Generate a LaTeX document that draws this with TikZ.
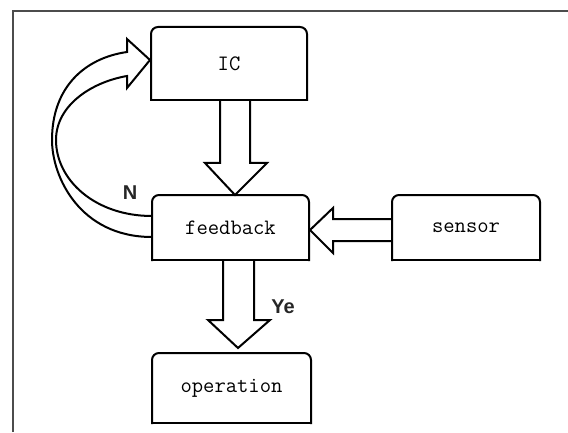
\documentclass[tikz,border=0pt]{standalone}
\usepackage{fontspec}
\newfontfamily\tagfont{Liberation Sans}
\usepackage{tikz}
\usetikzlibrary{calc, positioning}

\begin{document}
\begin{tikzpicture}[x=1pt, y=1pt, line width=2pt,
        block/.style={inner sep=0pt, outer sep=0pt, font={\fontsize{22}{26}\selectfont\ttfamily}},
        fat/.style={draw, fill=white, line join=miter},
        answer/.style={font={\fontsize{20}{22}\selectfont\tagfont\bfseries}, text=black!85}]
        \useasboundingbox (0,0) rectangle (568,432);
        \draw[black!70, line width=1.2pt] (13,0) -- (13,421) -- (568,421);

        \node[block, minimum width=156pt, minimum height=73pt] (ic) at (229,368.5) {IC};
        \node[block, minimum width=157pt, minimum height=65pt, below=95pt of ic, xshift=1.5pt] (fb) {feedback};
        \node[block, minimum width=148pt, minimum height=65pt, right=83pt of fb] (sensor) {sensor};
        \node[block, minimum width=159pt, minimum height=70pt, below=93pt of fb, xshift=1pt] (op) {operation};

        % hollow arrows
        \draw[fat] ($(ic.south)+(-9,0)$) -- ++(0,-63) -- ++(-15,0) -- ($(fb.north)+(4.5,0)$)
                -- ($(ic.south)+(38,-63)$) -- ++(-17,0) -- ++(0,63);
        \draw[fat] ($(fb.south)+(-7.5,0)$) -- ++(0,-60) -- ++(-15,0) -- ($(op.north)+(6.5,5)$)
                -- ($(fb.south)+(39.5,-60)$) -- ++(-16,0) -- ++(0,60);
        \draw[fat] ($(sensor.west)+(0,8.5)$) -- ++(-59,0) -- ++(0,11) -- ($(fb.east)+(1,-2.5)$)
                -- ($(sensor.west)+(-59,-25.5)$) -- ++(0,12) -- ++(59,0);
        \draw[fat] ($(fb.west)+(0,-9.5)$) .. controls (80,195) and (52,255) .. (52,292)
                .. controls (52,345) and (85,374) .. ($(ic.west)+(-24,11.5)$) -- ++(0,13)
                -- ($(ic.west)+(-1,3.5)$) -- ($(ic.west)+(-24,-24.5)$) -- ++(0,12)
                .. controls (92,350) and (56,327) .. (56,292)
                .. controls (56,252) and (95,216) .. ($(fb.west)+(0,11.5)$);

        % boxes: rounded on top, square at the bottom
        \foreach \n in {ic,fb,sensor,op}{
            \draw[rounded corners=7pt, line cap=rect] (\n.south west) -- (\n.north west) -- (\n.north east) -- (\n.south east);
            \draw[line cap=rect] (\n.south west) -- (\n.south east);
        }

        \node[answer] (no) at ($(fb.north west)+(-22,2)$) {N};
        \node[answer] (yes) at ($(fb.south)+(52.5,-47)$) {Ye};
\end{tikzpicture}
\end{document}
